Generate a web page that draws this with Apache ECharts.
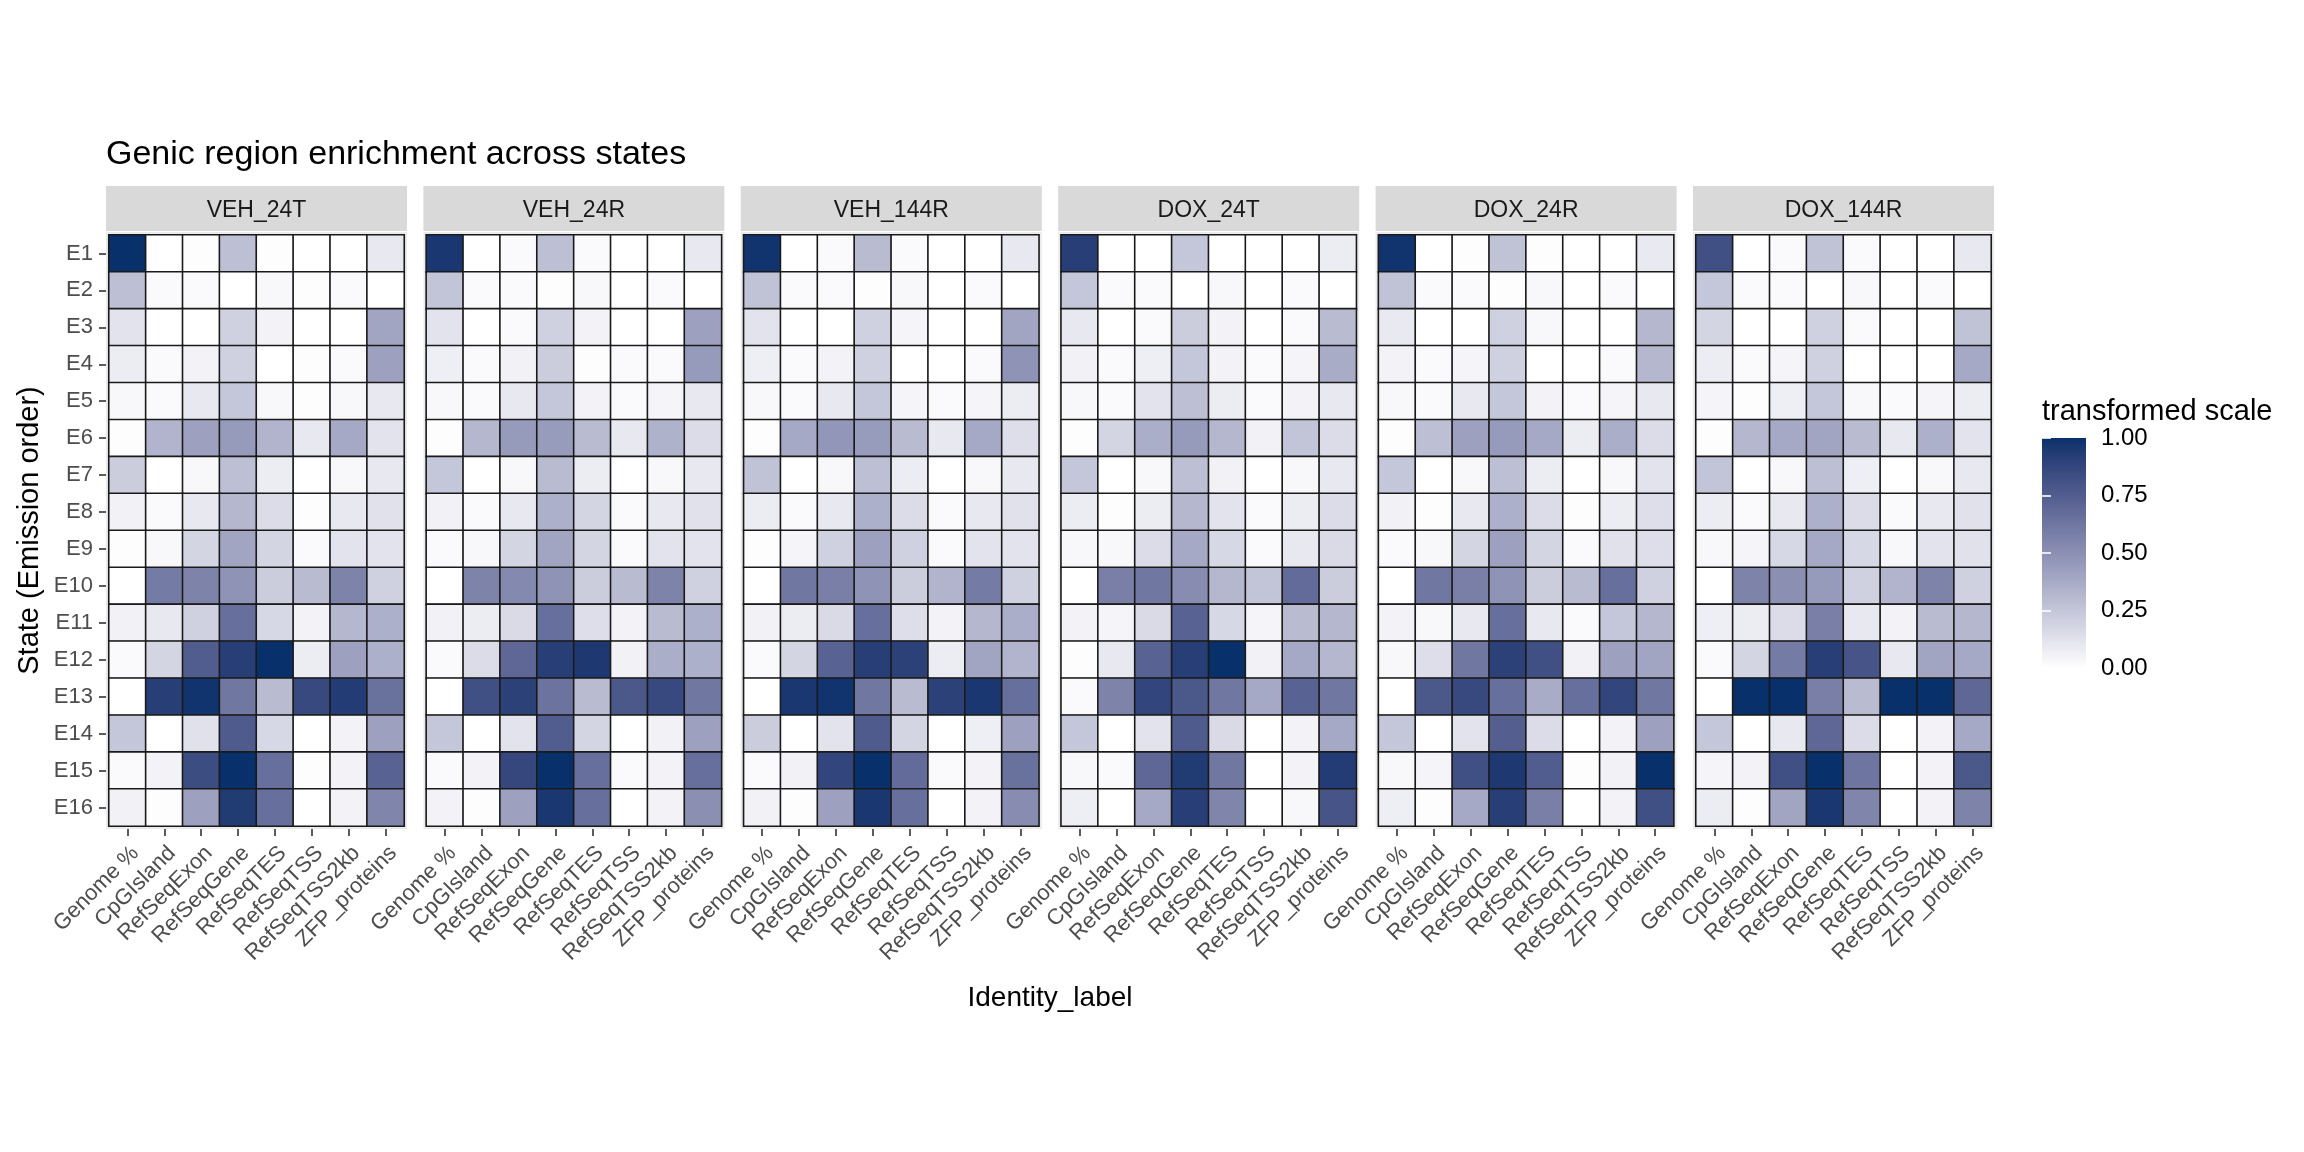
<!DOCTYPE html>
<html>
<head>
<meta charset="utf-8">
<script src="https://cdn.jsdelivr.net/npm/echarts@6/dist/echarts.min.js"></script>
<style>
html,body{margin:0;padding:0;background:#fff;}
#chart{width:2304px;height:1152px;}
</style>
</head>
<body>
<div id="chart"></div>
<script>
// ---------------- DATA ----------------
const stateLabels = ['E1','E2','E3','E4','E5','E6','E7','E8','E9','E10','E11','E12','E13','E14','E15','E16'];
const identityLabels = ['Genome %','CpGIsland','RefSeqExon','RefSeqGene','RefSeqTES','RefSeqTSS','RefSeqTSS2kb','ZFP_proteins'];
const panelNames = ['VEH_24T','VEH_24R','VEH_144R','DOX_24T','DOX_24R','DOX_144R'];
const legendTicks = [0, 0.25, 0.5, 0.75, 1];

const veh24T = [
  [1.00,0.00,0.01,0.28,0.01,0.00,0.00,0.10],
  [0.28,0.02,0.02,0.00,0.03,0.01,0.02,0.00],
  [0.12,0.00,0.00,0.20,0.05,0.00,0.00,0.40],
  [0.08,0.02,0.05,0.20,0.00,0.01,0.02,0.42],
  [0.03,0.02,0.10,0.25,0.03,0.01,0.03,0.10],
  [0.01,0.33,0.42,0.45,0.33,0.10,0.38,0.12],
  [0.22,0.00,0.03,0.28,0.08,0.00,0.03,0.10],
  [0.06,0.02,0.10,0.32,0.15,0.01,0.10,0.13],
  [0.01,0.03,0.18,0.40,0.18,0.02,0.12,0.12],
  [0.00,0.60,0.56,0.48,0.22,0.30,0.56,0.20],
  [0.06,0.10,0.20,0.66,0.17,0.05,0.32,0.35],
  [0.02,0.18,0.75,0.92,1.00,0.08,0.42,0.35],
  [0.00,0.92,0.98,0.62,0.30,0.86,0.93,0.65],
  [0.25,0.00,0.13,0.76,0.17,0.00,0.05,0.42],
  [0.02,0.05,0.84,1.00,0.66,0.01,0.05,0.72],
  [0.06,0.01,0.42,0.94,0.66,0.00,0.05,0.55]
];
const veh24R = [
  [0.96,0.00,0.02,0.28,0.02,0.00,0.00,0.10],
  [0.26,0.02,0.02,0.01,0.03,0.00,0.02,0.00],
  [0.12,0.00,0.02,0.20,0.05,0.00,0.00,0.42],
  [0.07,0.02,0.06,0.22,0.01,0.02,0.02,0.45],
  [0.03,0.02,0.10,0.25,0.05,0.02,0.04,0.10],
  [0.01,0.32,0.45,0.44,0.30,0.10,0.34,0.15],
  [0.25,0.00,0.03,0.30,0.08,0.00,0.03,0.10],
  [0.06,0.02,0.10,0.35,0.18,0.02,0.10,0.13],
  [0.02,0.03,0.18,0.40,0.18,0.02,0.12,0.12],
  [0.00,0.56,0.53,0.48,0.22,0.30,0.56,0.20],
  [0.06,0.08,0.16,0.66,0.14,0.05,0.30,0.35],
  [0.02,0.15,0.70,0.92,0.95,0.06,0.36,0.35],
  [0.00,0.82,0.90,0.64,0.30,0.78,0.86,0.62],
  [0.25,0.00,0.12,0.75,0.18,0.00,0.06,0.42],
  [0.02,0.05,0.87,1.00,0.66,0.02,0.05,0.66],
  [0.05,0.01,0.42,0.96,0.66,0.00,0.05,0.50]
];
const veh144R = [
  [0.98,0.00,0.02,0.30,0.02,0.00,0.00,0.10],
  [0.27,0.02,0.02,0.01,0.03,0.00,0.02,0.00],
  [0.12,0.00,0.00,0.20,0.04,0.00,0.00,0.40],
  [0.07,0.02,0.05,0.20,0.00,0.00,0.02,0.48],
  [0.03,0.02,0.10,0.25,0.04,0.02,0.04,0.08],
  [0.01,0.38,0.47,0.44,0.30,0.10,0.38,0.14],
  [0.27,0.00,0.03,0.28,0.08,0.00,0.03,0.10],
  [0.08,0.02,0.10,0.35,0.15,0.02,0.10,0.13],
  [0.01,0.04,0.20,0.42,0.20,0.02,0.12,0.12],
  [0.00,0.62,0.58,0.48,0.22,0.33,0.60,0.20],
  [0.06,0.08,0.16,0.66,0.14,0.05,0.32,0.36],
  [0.02,0.18,0.72,0.92,0.90,0.08,0.40,0.33],
  [0.00,0.96,0.98,0.62,0.30,0.90,0.96,0.66],
  [0.22,0.00,0.12,0.76,0.18,0.00,0.07,0.42],
  [0.02,0.06,0.88,1.00,0.68,0.02,0.05,0.65],
  [0.06,0.01,0.42,0.96,0.66,0.00,0.05,0.52]
];
const dox24T = [
  [0.92,0.00,0.00,0.25,0.00,0.00,0.00,0.08],
  [0.25,0.02,0.02,0.00,0.03,0.00,0.02,0.00],
  [0.10,0.00,0.02,0.22,0.05,0.00,0.02,0.30],
  [0.06,0.02,0.07,0.25,0.05,0.02,0.04,0.37],
  [0.03,0.02,0.12,0.28,0.08,0.02,0.05,0.10],
  [0.01,0.18,0.36,0.45,0.32,0.06,0.26,0.15],
  [0.25,0.00,0.03,0.28,0.06,0.00,0.03,0.10],
  [0.08,0.01,0.08,0.32,0.12,0.02,0.08,0.15],
  [0.03,0.03,0.15,0.38,0.17,0.02,0.10,0.16],
  [0.00,0.58,0.62,0.52,0.32,0.26,0.68,0.22],
  [0.05,0.04,0.16,0.72,0.17,0.04,0.30,0.32],
  [0.01,0.10,0.72,0.92,1.00,0.06,0.38,0.32],
  [0.02,0.56,0.88,0.78,0.62,0.38,0.72,0.62],
  [0.25,0.00,0.12,0.76,0.16,0.00,0.05,0.38],
  [0.03,0.02,0.70,0.94,0.62,0.00,0.05,0.93],
  [0.07,0.00,0.38,0.92,0.55,0.00,0.03,0.80]
];
const dox24R = [
  [0.98,0.00,0.01,0.27,0.01,0.00,0.00,0.09],
  [0.27,0.02,0.02,0.01,0.03,0.00,0.02,0.00],
  [0.09,0.00,0.00,0.20,0.03,0.00,0.00,0.32],
  [0.05,0.02,0.04,0.20,0.00,0.00,0.02,0.32],
  [0.03,0.02,0.10,0.25,0.05,0.02,0.04,0.10],
  [0.01,0.28,0.42,0.45,0.38,0.08,0.36,0.15],
  [0.25,0.00,0.03,0.28,0.08,0.00,0.03,0.12],
  [0.06,0.01,0.10,0.35,0.15,0.01,0.08,0.14],
  [0.02,0.03,0.18,0.42,0.18,0.02,0.13,0.14],
  [0.00,0.62,0.58,0.48,0.22,0.30,0.66,0.20],
  [0.05,0.03,0.10,0.66,0.10,0.02,0.25,0.32],
  [0.03,0.14,0.62,0.90,0.82,0.06,0.42,0.40],
  [0.00,0.78,0.86,0.66,0.37,0.66,0.88,0.62],
  [0.25,0.00,0.12,0.74,0.15,0.00,0.05,0.42],
  [0.03,0.04,0.82,0.95,0.75,0.01,0.06,1.00],
  [0.07,0.01,0.38,0.92,0.58,0.00,0.05,0.82]
];
const dox144R = [
  [0.82,0.00,0.02,0.27,0.02,0.00,0.00,0.10],
  [0.25,0.02,0.02,0.00,0.03,0.00,0.02,0.00],
  [0.18,0.00,0.00,0.20,0.02,0.00,0.00,0.27],
  [0.08,0.02,0.04,0.20,0.00,0.00,0.00,0.38],
  [0.04,0.01,0.07,0.25,0.03,0.02,0.04,0.08],
  [0.01,0.32,0.38,0.40,0.30,0.10,0.35,0.12],
  [0.26,0.00,0.03,0.28,0.07,0.00,0.03,0.10],
  [0.08,0.02,0.10,0.35,0.15,0.02,0.10,0.13],
  [0.03,0.04,0.17,0.38,0.17,0.03,0.12,0.13],
  [0.00,0.56,0.50,0.45,0.20,0.33,0.56,0.20],
  [0.07,0.08,0.15,0.58,0.10,0.05,0.30,0.32],
  [0.02,0.18,0.60,0.92,0.80,0.10,0.40,0.38],
  [0.00,1.00,1.00,0.58,0.30,1.00,1.00,0.70],
  [0.25,0.00,0.10,0.70,0.15,0.00,0.05,0.38],
  [0.04,0.05,0.82,1.00,0.63,0.00,0.05,0.78],
  [0.08,0.01,0.40,0.96,0.55,0.00,0.05,0.56]
];
const panelValues = [veh24T, veh24R, veh144R, dox24T, dox24R, dox144R];

// ---------------- COLOUR (Lab interpolation, like ggplot) ----------------
const LOW = '#FFFFFF', HIGH = '#08306B';
function hexToRgb(h){h=h.replace('#','');return [0,2,4].map(i=>parseInt(h.substr(i,2),16));}
function toLin(c){c/=255;return c<=0.04045?c/12.92:Math.pow((c+0.055)/1.055,2.4);}
function fromLin(c){c=c<=0.0031308?12.92*c:1.055*Math.pow(c,1/2.4)-0.055;return Math.max(0,Math.min(255,Math.round(c*255)));}
const Xn=0.95047,Yn=1,Zn=1.08883;
function f(t){return t>0.008856?Math.cbrt(t):7.787*t+16/116;}
function fi(t){return t>0.206893?t*t*t:(t-16/116)/7.787;}
function rgbToLab(rgb){const [r,g,b]=rgb.map(toLin);
  const X=0.4124*r+0.3576*g+0.1805*b, Y=0.2126*r+0.7152*g+0.0722*b, Z=0.0193*r+0.1192*g+0.9505*b;
  const fx=f(X/Xn),fy=f(Y/Yn),fz=f(Z/Zn);return [116*fy-16,500*(fx-fy),200*(fy-fz)];}
function labToHex(lab){const fy=(lab[0]+16)/116,fx=fy+lab[1]/500,fz=fy-lab[2]/200;
  const X=Xn*fi(fx),Y=Yn*fi(fy),Z=Zn*fi(fz);
  const r=3.2406*X-1.5372*Y-0.4986*Z,g=-0.9689*X+1.8758*Y+0.0415*Z,b=0.0557*X-0.2040*Y+1.0570*Z;
  return '#'+[r,g,b].map(fromLin).map(v=>v.toString(16).padStart(2,'0')).join('');}
const labLo=rgbToLab(hexToRgb(LOW)), labHi=rgbToLab(hexToRgb(HIGH));
function colAt(t){return labToHex(labLo.map((v,i)=>v+(labHi[i]-v)*t));}
const NSTOP=21;
const rampColors=[];for(let i=0;i<NSTOP;i++)rampColors.push(colAt(i/(NSTOP-1)));
const barStops=[];for(let i=0;i<NSTOP;i++)barStops.push({offset:i/(NSTOP-1),color:colAt(1-i/(NSTOP-1))});

// ---------------- LAYOUT ----------------
const FONT='"Liberation Sans", Arial, sans-serif';
const P0=106, PSTEP=317.4, PW=301;
const BG_TOP=232, BG_H=597, INSET=3;
const STRIP_TOP=186, STRIP_H=45;

const grids=[], xAxes=[], yAxes=[], series=[], titles=[];
titles.push({text:'Genic region enrichment across states',left:P0,top:138,padding:0,
  textStyle:{fontFamily:FONT,fontSize:34,fontWeight:'normal',color:'#000'}});

panelNames.forEach((name,i)=>{
  const left=P0+i*PSTEP;
  grids.push({left:left,top:BG_TOP,width:PW,height:BG_H,show:true,backgroundColor:'#EBEBEB',borderWidth:0,z:0});
  grids.push({left:left,top:STRIP_TOP,width:PW,height:STRIP_H,show:true,backgroundColor:'#D9D9D9',borderWidth:0,z:0});
  titles.push({text:name,left:left+PW/2,top:STRIP_TOP+13,textAlign:'center',padding:0,
    textStyle:{fontFamily:FONT,fontSize:23,fontWeight:'normal',color:'#1A1A1A'}});
});
const TILE_BASE=grids.length;
panelNames.forEach((name,i)=>{
  const left=P0+i*PSTEP+INSET;
  grids.push({left:left,top:BG_TOP+INSET,width:PW-2*INSET,height:BG_H-2*INSET,show:false});
  const gi=TILE_BASE+i;
  xAxes.push({type:'category',gridIndex:gi,data:identityLabels,position:'bottom',offset:INSET,
    axisLine:{show:false},axisTick:{show:true,alignWithLabel:true,length:7,lineStyle:{color:'#333',width:1.6}},
    axisLabel:{rotate:45,align:'right',verticalAlign:'top',fontFamily:FONT,fontSize:22,color:'#4D4D4D',margin:13,interval:0},
    splitLine:{show:false}});
  yAxes.push({type:'category',gridIndex:gi,data:stateLabels,inverse:true,offset:INSET,
    axisLine:{show:false},axisTick:{show:i===0,alignWithLabel:true,length:7,lineStyle:{color:'#333',width:1.6}},
    axisLabel:{show:i===0,fontFamily:FONT,fontSize:22,color:'#4D4D4D',margin:13},
    splitLine:{show:false},
    name:i===0?'State (Emission order)':'',nameLocation:'middle',nameRotate:90,nameGap:62,
    nameTextStyle:{fontFamily:FONT,fontSize:29,color:'#000'}});
  const vals=panelValues[i];
  const data=[];
  vals.forEach((row,r)=>row.forEach((v,c)=>data.push([c,r,v])));
  series.push({type:'heatmap',xAxisIndex:i,yAxisIndex:i,data:data,
    itemStyle:{borderColor:'#1A1A1A',borderWidth:1.6},emphasis:{disabled:true},z:3});
});

// colour bar
const CB_GRID=grids.length;
grids.push({left:2042,top:438,width:44,height:230,show:true,borderWidth:0,
  backgroundColor:{type:'linear',x:0,y:0,x2:0,y2:1,colorStops:barStops}});
xAxes.push({type:'value',gridIndex:CB_GRID,show:false,min:0,max:1});
yAxes.push({type:'value',gridIndex:CB_GRID,min:0,max:1,interval:0.25,position:'right',
  axisLine:{show:false},splitLine:{show:false},
  axisTick:{show:true,inside:true,length:9,lineStyle:{color:'#fff',width:1.6}},
  axisLabel:{fontFamily:FONT,fontSize:24,color:'#000',margin:15,
    formatter:v=>legendTicks.indexOf(v)>=0?v.toFixed(2):''}});
yAxes.push({type:'value',gridIndex:CB_GRID,min:0,max:1,interval:0.25,position:'left',
  axisLine:{show:false},splitLine:{show:false},axisLabel:{show:false},
  axisTick:{show:true,inside:true,length:9,lineStyle:{color:'#fff',width:1.6}}});
titles.push({text:'transformed scale',left:2042,top:397,padding:0,
  textStyle:{fontFamily:FONT,fontSize:29,fontWeight:'normal',color:'#000'}});
titles.push({text:'Identity_label',left:1050,top:984,textAlign:'center',padding:0,
  textStyle:{fontFamily:FONT,fontSize:28,fontWeight:'normal',color:'#000'}});

const chart=echarts.init(document.getElementById('chart'),null,{renderer:'canvas'});
chart.setOption({
  backgroundColor:'#fff',
  animation:false,
  title:titles,
  grid:grids,
  xAxis:xAxes,
  yAxis:yAxes,
  visualMap:{show:false,type:'continuous',min:0,max:1,seriesIndex:[0,1,2,3,4,5],
    inRange:{color:rampColors}},
  series:series
});
</script>
</body>
</html>
